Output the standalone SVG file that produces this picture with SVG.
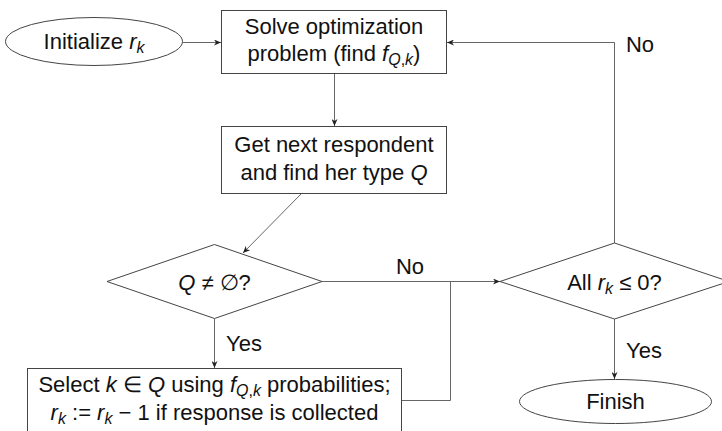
<svg xmlns="http://www.w3.org/2000/svg" width="722" height="431" viewBox="0 0 722 431">
<defs>
<marker id="arr" markerUnits="userSpaceOnUse" markerWidth="8" markerHeight="6" refX="7" refY="3" orient="auto">
<path d="M0,0 L7,3 L0,6 L2,3 Z" fill="#222"/>
</marker>
<style>
.shape{fill:#fff;stroke:#444;stroke-width:1}
.conn{fill:none;stroke:#666;stroke-width:1}
text{font-family:"Liberation Sans",Arial,sans-serif;font-size:22px;fill:#111;text-anchor:middle}
.i{font-style:italic}
.s{font-size:16px}
</style>
</defs>
<rect width="722" height="431" fill="#fff"/>
<g id="connectors">
<line class="conn" x1="183" y1="42.5" x2="221" y2="42.5" marker-end="url(#arr)"/>
<line class="conn" x1="334.5" y1="74" x2="334.5" y2="126" marker-end="url(#arr)"/>
<line class="conn" x1="301" y1="194" x2="243" y2="253" marker-end="url(#arr)"/>
<line class="conn" x1="214.5" y1="319" x2="214.5" y2="368" marker-end="url(#arr)"/>
<polyline class="conn" points="322,281.5 500,281.5" marker-end="url(#arr)"/>
<polyline class="conn" points="402,400.5 450.5,400.5 450.5,281.5"/>
<polyline class="conn" points="614.5,243 614.5,42.5 447,42.5" marker-end="url(#arr)"/>
<line class="conn" x1="614.5" y1="319" x2="614.5" y2="379" marker-end="url(#arr)"/>
<text x="410" y="274">No</text>
<text x="640" y="52">No</text>
<text x="244" y="351">Yes</text>
<text x="644" y="358">Yes</text>
</g>
<g id="init">
<ellipse class="shape" cx="94" cy="41.5" rx="88.5" ry="24"/>
<text x="94" y="49">Initialize <tspan class="i">r</tspan><tspan class="i s" dy="4">k</tspan></text>
</g>
<g id="solve">
<rect class="shape" x="221.5" y="10.5" width="225" height="63"/>
<text x="334" y="34">Solve optimization</text>
<text x="334" y="61">problem (find <tspan class="i">f</tspan><tspan class="s" dy="4"><tspan class="i">Q</tspan>,<tspan class="i">k</tspan></tspan><tspan dy="-4">)</tspan></text>
</g>
<g id="next">
<rect class="shape" x="221.5" y="126.5" width="225" height="67"/>
<text x="334" y="152">Get next respondent</text>
<text x="334" y="180">and find her type <tspan class="i">Q</tspan></text>
</g>
<g id="qdecision">
<polygon class="shape" points="107,281.5 214.5,244.5 322,281.5 214.5,318.5"/>
<text x="214.5" y="290"><tspan class="i">Q</tspan> ≠ ∅?</text>
</g>
<g id="select">
<rect class="shape" x="27.5" y="368.5" width="374" height="70"/>
<text x="214.5" y="392">Select <tspan class="i">k</tspan> ∈ <tspan class="i">Q</tspan> using <tspan class="i">f</tspan><tspan class="s" dy="4"><tspan class="i">Q</tspan>,<tspan class="i">k</tspan></tspan><tspan dy="-4"> probabilities;</tspan></text>
<text x="214.5" y="420"><tspan class="i">r</tspan><tspan class="i s" dy="4">k</tspan><tspan dy="-4"> := </tspan><tspan class="i">r</tspan><tspan class="i s" dy="4">k</tspan><tspan dy="-4"> − 1 if response is collected</tspan></text>
</g>
<g id="alldecision">
<polygon class="shape" points="500,281.5 614.5,243 729,281.5 614.5,319"/>
<text x="614.5" y="290">All <tspan class="i">r</tspan><tspan class="i s" dy="4">k</tspan><tspan dy="-4"> ≤ 0?</tspan></text>
</g>
<g id="finish">
<ellipse class="shape" cx="615.5" cy="401.5" rx="96" ry="22"/>
<text x="615.5" y="409">Finish</text>
</g>
</svg>
